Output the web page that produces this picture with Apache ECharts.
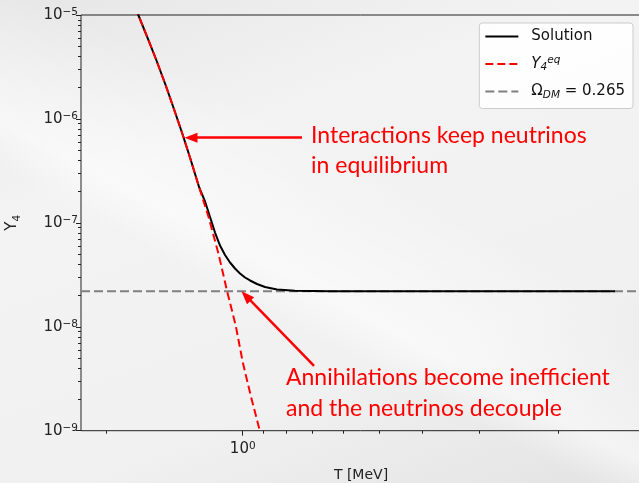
<!DOCTYPE html>
<html>
<head>
<meta charset="utf-8">
<script src="https://cdn.jsdelivr.net/npm/echarts@6/dist/echarts.min.js"></script>
<style>
html,body{margin:0;padding:0;}
body{width:639px;height:483px;overflow:hidden;
background:
 linear-gradient(28deg, rgba(255,255,255,0) 0%, rgba(255,255,255,0) 38%, rgba(255,255,255,0.55) 44%, rgba(255,255,255,0) 62%),
 linear-gradient(160deg, #e6e6e6 0%, #f3f3f3 30%, #f1f1f1 70%, #e3e3e3 100%);}
#c{width:639px;height:483px;}
</style>
</head>
<body>
<div id="c"></div>
<script>
// ---- data ----
const solT = [1.815, 1.702, 1.6245, 1.553, 1.4812, 1.417, 1.3593, 1.307, 1.2481, 1.2117, 1.1812, 1.1515, 1.1226, 1.0943, 1.0668, 1.0400, 1.0139, 0.9884, 0.9635, 0.9297, 0.8926, 0.8397, 0.7662, 0.6410, 0.5, 0.3, 0.1501];
const solY = [1.944e-5, 1.0e-5, 6.07e-6, 3.69e-6, 2.121e-6, 1.219e-6, 7.16e-7, 4.21e-7, 2.189e-7, 1.605e-7, 1.138e-7, 8.07e-8, 6.05e-8, 4.91e-8, 4.155e-8, 3.637e-8, 3.256e-8, 2.979e-8, 2.789e-8, 2.580e-8, 2.415e-8, 2.285e-8, 2.225e-8, 2.201e-8, 2.2e-8, 2.2e-8, 2.2e-8];
const eqT = [1.815, 1.702, 1.6245, 1.553, 1.4812, 1.417, 1.3593, 1.307, 1.2481, 1.190, 1.1310, 1.083, 1.0358, 1.000, 0.9596, 0.9175, 0.886];
const eqY = [1.944e-5, 1.0e-5, 6.07e-6, 3.69e-6, 2.121e-6, 1.219e-6, 7.16e-7, 4.21e-7, 2.189e-7, 1.138e-7, 5.018e-8, 2.21e-8, 1.018e-8, 4.58e-9, 2.158e-9, 1.016e-9, 5.23e-10];
const omegaY = 2.2e-8;
const xRange = [0.1315, 2.279];
const yRange = [1e-9, 1e-5];
const xMajorTicks = [1];
const xMinorTicks = [2, 0.9, 0.8, 0.7, 0.6, 0.5, 0.4, 0.3, 0.2];
const yMajorTicks = [1e-9, 1e-8, 1e-7, 1e-6, 1e-5];
const yMinorTicks = [];
for (let d = -9; d <= -6; d++) for (let k = 2; k <= 9; k++) yMinorTicks.push(+(k * Math.pow(10, d)).toPrecision(3));
const legendNames = ['Solution', 'Yeq', 'Omega'];
// annotation arrows (data coords: tail -> head)
const arrow1 = [[0.7394, 6.60e-7], [1.3015, 6.60e-7]];
const arrow2 = [[0.6954, 4.195e-9], [0.9833, 1.978e-8]];
const note1 = 'Interactions keep neutrinos\nin equilibrium';
const note2 = 'Annihilations become inefficient\nand the neutrinos decouple';

const FONT = 'DejaVu Sans';
const AXC = '#222222';
const supRich = {
  b: {fontFamily: FONT, fontSize: 15, color: AXC, lineHeight: 16, verticalAlign: 'bottom'},
  s: {fontFamily: FONT, fontSize: 10.5, color: AXC, lineHeight: 12, verticalAlign: 'top'}
};
function expLabel(v) {
  const e = Math.round(Math.log10(v));
  return '{b|10}{s|' + (e < 0 ? '\u2212' + (-e) : e) + '}';
}
function pairs(xs, ys) { return xs.map((x, i) => [x, ys[i]]); }

const chart = echarts.init(document.getElementById('c'), null, {renderer: 'canvas'});
const baseX = {type: 'log', logBase: 10, min: xRange[0], max: xRange[1], inverse: true, position: 'bottom',
  splitLine: {show: false}, axisLine: {show: false}};
const baseY = {type: 'log', logBase: 10, min: yRange[0], max: yRange[1], position: 'left',
  splitLine: {show: false}, axisLine: {show: false}};

chart.setOption({
  animation: false,
  backgroundColor: 'transparent',
  grid: {left: 81, top: 15, right: -2, bottom: 52.3, outerBoundsMode: 'none', containLabel: false,
    show: true, borderColor: AXC, borderWidth: 1, backgroundColor: 'transparent'},
  xAxis: [
    Object.assign({}, baseX, {
      name: 'T [MeV]', nameLocation: 'middle', nameGap: 38,
      nameTextStyle: {fontFamily: FONT, fontSize: 14, color: AXC},
      axisTick: {show: true, length: 5, lineStyle: {color: AXC, width: 1}, customValues: xMajorTicks},
      axisLabel: {show: true, margin: 10, customValues: xMajorTicks, formatter: expLabel, rich: supRich}
    }),
    Object.assign({}, baseX, {
      axisTick: {show: true, length: 3, lineStyle: {color: AXC, width: 1}, customValues: xMinorTicks},
      axisLabel: {show: false}
    })
  ],
  yAxis: [
    Object.assign({}, baseY, {
      name: '{n|Y}{u|4}', nameLocation: 'middle', nameGap: 58, nameRotate: 90,
      nameTextStyle: {rich: {
        n: {fontFamily: FONT, fontSize: 15, color: AXC, lineHeight: 18, verticalAlign: 'top'},
        u: {fontFamily: FONT, fontSize: 10.5, color: AXC, lineHeight: 18, verticalAlign: 'bottom'}
      }},
      axisTick: {show: true, length: 5, lineStyle: {color: AXC, width: 1}, customValues: yMajorTicks},
      axisLabel: {show: true, margin: 3, customValues: yMajorTicks, formatter: expLabel, rich: supRich}
    }),
    Object.assign({}, baseY, {
      axisTick: {show: true, length: 3, lineStyle: {color: AXC, width: 1}, customValues: yMinorTicks},
      axisLabel: {show: false}
    })
  ],
  legend: {
    orient: 'vertical', right: 6, top: 23,
    itemWidth: 33, itemHeight: 14, itemGap: 11,
    padding: [6, 8, 8, 5],
    itemStyle: {opacity: 0},
    backgroundColor: 'rgba(255,255,255,0.85)', borderColor: '#cccccc', borderWidth: 1, borderRadius: 3,
    data: legendNames,
    formatter: function (name) {
      if (name === 'Yeq') return '{p|}{i|Y}{sb|4}{sp|eq}';
      if (name === 'Omega') return '{p|}{t|\u03A9}{sb|DM}{t| = 0.265}';
      return '{p|}{t|' + name + '}';
    },
    textStyle: {
      fontFamily: FONT, fontSize: 15, color: '#111',
      rich: {
        p: {width: 8},
        t: {fontFamily: FONT, fontSize: 15, color: '#111', lineHeight: 18},
        i: {fontFamily: FONT, fontSize: 15, color: '#111', fontStyle: 'italic', lineHeight: 18},
        sb: {fontFamily: FONT, fontSize: 10.5, color: '#111', fontStyle: 'italic', lineHeight: 18, verticalAlign: 'bottom'},
        sp: {fontFamily: FONT, fontSize: 10.5, color: '#111', fontStyle: 'italic', lineHeight: 18, verticalAlign: 'top'}
      }
    }
  },
  series: [
    {
      name: 'Omega', type: 'line', xAxisIndex: 0, yAxisIndex: 0, showSymbol: false, symbol: 'none',
      data: [[xRange[1], omegaY], [xRange[0], omegaY]],
      lineStyle: {color: '#808080', width: 2, type: [9, 4]}, itemStyle: {color: '#808080'}, z: 2
    },
    {
      name: 'Solution', type: 'line', xAxisIndex: 0, yAxisIndex: 0, showSymbol: false, symbol: 'none',
      smooth: false,
      data: pairs(solT, solY),
      lineStyle: {color: '#000000', width: 2}, itemStyle: {color: '#000000'}, z: 3,
      markLine: {
        silent: true, symbol: ['none', 'triangle'], symbolSize: [10, 13], animation: false,
        lineStyle: {color: '#ff0000', width: 2.5, type: 'solid'},
        label: {show: false},
        data: [
          [{coord: arrow1[0]}, {coord: arrow1[1]}],
          [{coord: arrow2[0]}, {coord: arrow2[1]}]
        ]
      }
    },
    {
      name: 'Yeq', type: 'line', xAxisIndex: 0, yAxisIndex: 0, showSymbol: false, symbol: 'none',
      smooth: false,
      data: pairs(eqT, eqY),
      lineStyle: {color: '#ff0000', width: 2, type: [8, 4]}, itemStyle: {color: '#ff0000'}, z: 4
    }
  ],
  graphic: [
    {type: 'text', left: 311, top: 121, z: 10, style: {text: note1, fill: '#ff0000', font: '23px Lato', lineHeight: 30}},
    {type: 'text', left: 286, top: 362, z: 10, style: {text: note2, fill: '#ff0000', font: '23px Lato', lineHeight: 31}}
  ]
});
</script>
</body>
</html>
